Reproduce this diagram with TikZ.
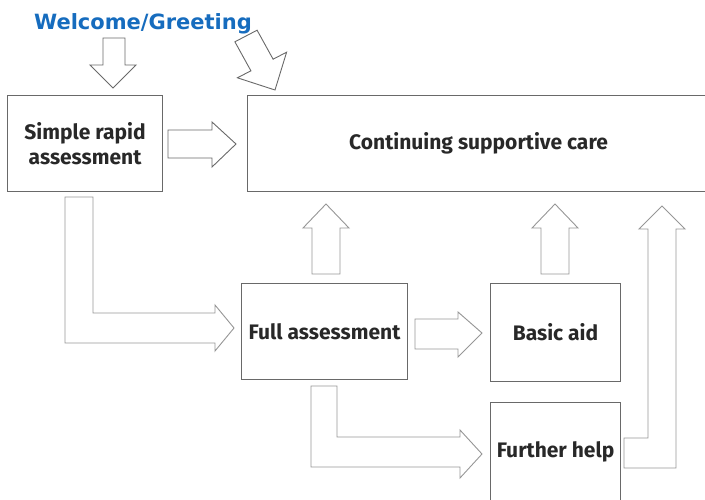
\documentclass[tikz,border=0pt]{standalone}
\usepackage{fontspec}
\setmainfont{Fira Sans}
\newfontfamily\headfont{DejaVu Sans}
\usepackage{xcolor}
\definecolor{greetblue}{RGB}{22,108,190}
\definecolor{boxgray}{RGB}{105,105,105}
\definecolor{arrowgray}{RGB}{150,150,150}
\definecolor{textgray}{RGB}{40,40,40}

\begin{document}
\begin{tikzpicture}[x=1pt, y=-1pt,
        stage/.style={draw=boxgray, line width=1.1pt, anchor=north west, inner sep=0pt,
            text=textgray, font=\bfseries\fontsize{21}{25}\selectfont, align=center},
        blockarrow/.style={draw=arrowgray, line width=0.9pt, line join=miter},
        darkarrow/.style={blockarrow, draw=boxgray}]
        \useasboundingbox (0,0) rectangle (705,499);
        \clip (0,0) rectangle (705,499);

        % Heading
        \node[text=greetblue, font=\headfont\bfseries\fontsize{21}{24}\selectfont] (welcome) at (143,23.5) {Welcome/Greeting};

        % Boxes
        \node[stage, minimum width=155pt, minimum height=96pt] (rapid) at (7,95) {Simple rapid\\assessment};
        \node[stage, minimum width=462pt, minimum height=96pt] (care) at (247,95) {Continuing supportive care};
        \node[stage, minimum width=166pt, minimum height=96pt] (full) at (241,283) {Full assessment};
        \node[stage, minimum width=130pt, minimum height=98pt] (basic) at (490,283) {Basic aid};
        \node[stage, minimum width=130pt, minimum height=98pt] (further) at (490,402) {Further help};

        % Arrows into the first boxes
        \draw[darkarrow] (103,38) -- (125,38) -- (125,65) -- (136,65) -- (113,88) -- (90,65) -- (103,65) -- cycle;
        \draw[darkarrow] (234.9,41.8) -- (257.1,30.2) -- (273.1,59.2) -- (286.6,52.2) -- (275,90) -- (237.4,77.8) -- (250.9,70.8) -- cycle;
        \draw[darkarrow] (168,130) -- (212,130) -- (212,122) -- (236,144) -- (212,167) -- (212,158) -- (168,158) -- cycle;

        % Down and across to the full assessment
        \draw[blockarrow] (65,197) -- (93,197) -- (93,313) -- (215,313) -- (215,305) -- (234,328) -- (215,351) -- (215,343) -- (65,343) -- cycle;
        \draw[blockarrow] (415,319) -- (458,319) -- (458,312) -- (482,333) -- (458,357) -- (458,349) -- (415,349) -- cycle;
        \draw[blockarrow] (311,386) -- (337,386) -- (337,437) -- (460,437) -- (460,430) -- (482,454) -- (460,478) -- (460,467) -- (311,467) -- cycle;

        % Back up to the supportive care
        \foreach \x in {326,555} {
            \draw[blockarrow] (\x-14,274) -- (\x-14,228) -- (\x-23,228) -- (\x,204) -- (\x+23,228) -- (\x+14,228) -- (\x+14,274) -- cycle;
        }
        \draw[blockarrow] (624,438) -- (648,438) -- (648,229) -- (639,229) -- (662,206) -- (685,229) -- (676,229) -- (676,468) -- (624,468) -- cycle;
    \end{tikzpicture}
\end{document}
